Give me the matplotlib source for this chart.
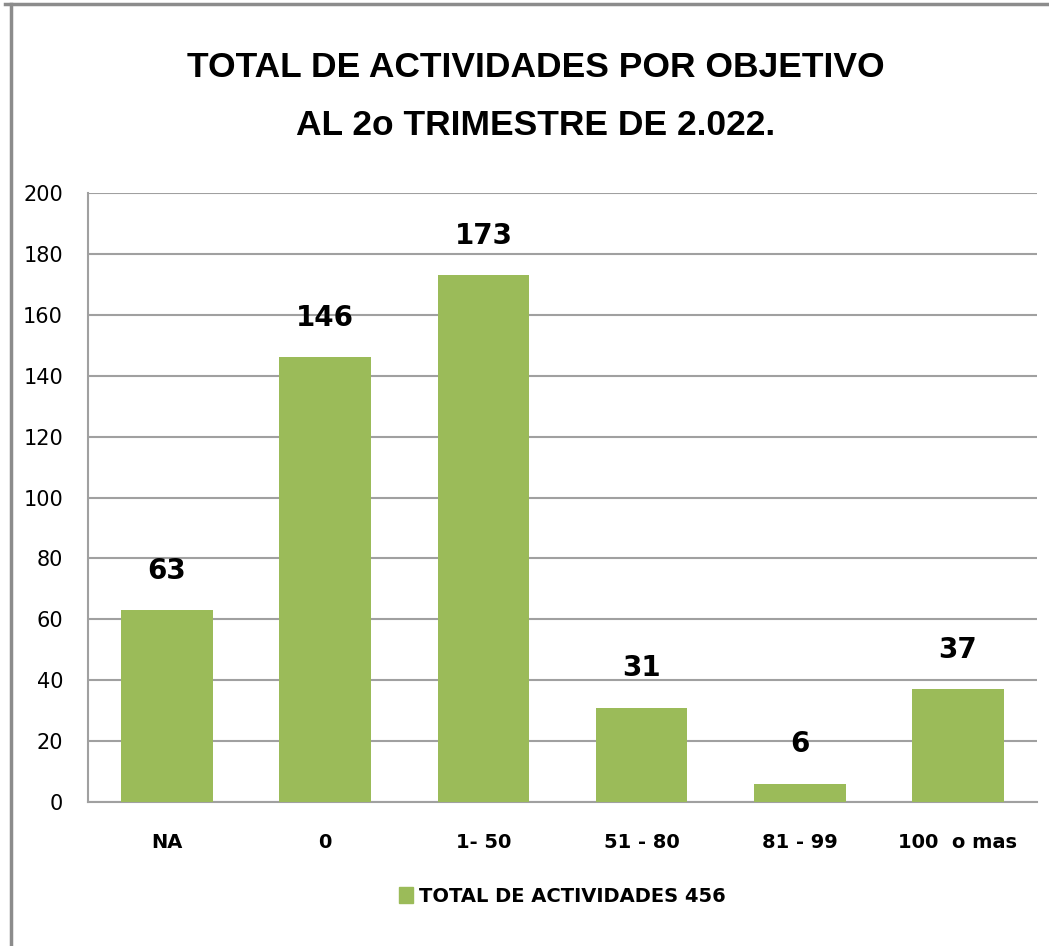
import matplotlib.pyplot as plt
from matplotlib.lines import Line2D
from matplotlib.patches import Patch

plt.rcParams['font.family'] = ['DejaVu Sans']

categorias = ['NA', '0', '1- 50', '51 - 80', '81 - 99', '100  o mas']
valores = [63, 146, 173, 31, 6, 37]
serie = 'TOTAL DE ACTIVIDADES 456'
titulo = 'TOTAL DE ACTIVIDADES POR OBJETIVO\nAL 2o TRIMESTRE DE 2.022.'
verde = '#9BBB59'
gris = '#A0A0A0'

fig = plt.figure(figsize=(10.49, 9.46), dpi=100)
ax = fig.add_axes([0.0839, 0.1522, 0.9047, 0.6438])

x = range(len(categorias))
barras = ax.bar(x, valores, 0.58, color=verde, zorder=3)

for b, v in zip(barras, valores):
    ax.text(b.get_x() + b.get_width() / 2, v + 13, str(v), ha='center', va='center',
            fontsize=20, fontweight='bold')

ax.set_xlim(-0.5, len(categorias) - 0.5)
ax.set_ylim(0, 200)
ax.set_yticks(range(0, 201, 20))
ax.set_xticks(list(x))
ax.set_xticklabels(categorias, fontweight='bold', fontsize=14)
ax.tick_params(axis='y', length=0, labelsize=15, pad=18)
ax.tick_params(axis='x', length=0, pad=22)
ax.grid(axis='y', color=gris, linewidth=1.5, zorder=0)
for s in ['top', 'right']:
    ax.spines[s].set_visible(False)
for s in ['left', 'bottom']:
    ax.spines[s].set_color(gris)
    ax.spines[s].set_linewidth(1.5)

fig.text(0.511, 0.898, titulo, ha='center', va='center', fontsize=25.5,
         fontweight='bold', linespacing=1.95, family='Liberation Sans')

ax.legend([Patch(color=verde)], [serie], loc='center', bbox_to_anchor=(0.5, -0.155),
          frameon=False, prop={'weight': 'bold', 'size': 14},
          handlelength=0.7, handleheight=0.9, handletextpad=0.3)

# marco del grafico
fig.add_artist(Line2D([0.005, 1.0], [0.996, 0.996], color='#8C8C8C', linewidth=2.5))
fig.add_artist(Line2D([0.0105, 0.0105], [0.0, 0.996], color='#8C8C8C', linewidth=2.5))

fig.savefig('out.png', dpi=100, facecolor='white')
